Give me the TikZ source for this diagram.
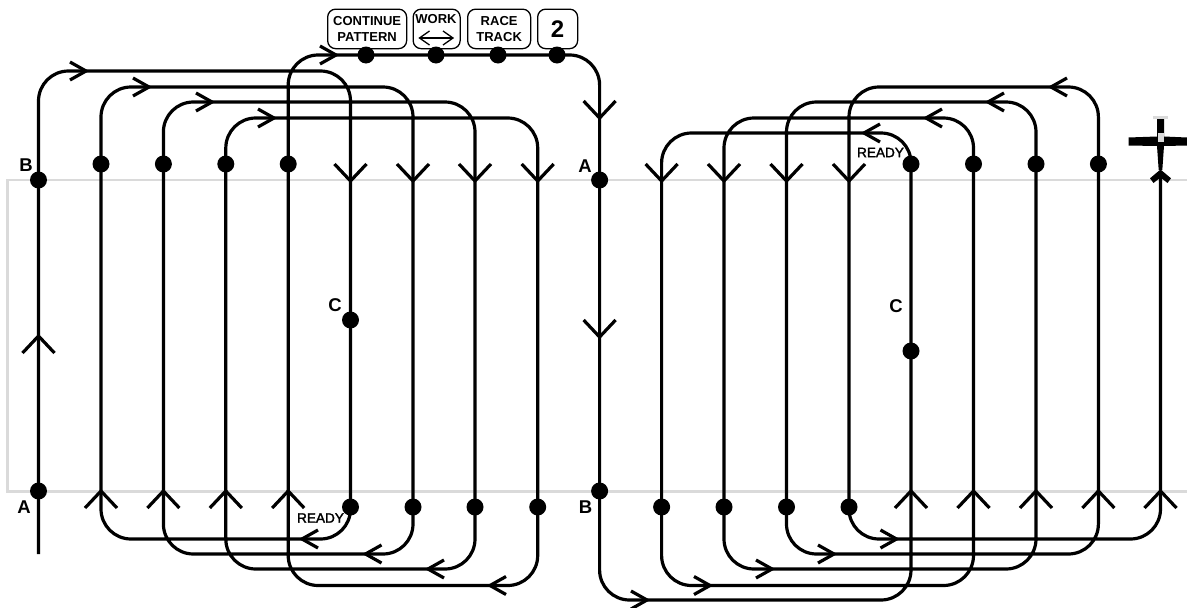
\documentclass[tikz,border=0pt]{standalone}
\usepackage{fontspec}
\setmainfont{Liberation Sans}
\newfontface\heavyface{Liberation Sans Bold}
\newfontface\midface[FakeBold=2]{Liberation Sans}
\definecolor{frame}{HTML}{DADADA}
\tikzset{
  route/.style={line width=3.2pt,rounded corners=30pt,black},
  dot/.style={circle,fill=black,inner sep=0pt,minimum size=17pt},
  btn/.style={draw=black,line width=1.3pt,rounded corners=8pt,inner sep=0pt,fill=white,font=\fontsize{13}{15.5}\selectfont\heavyface,align=center,anchor=north west},
  big/.style={font=\fontsize{18.5}{18}\selectfont\heavyface,inner sep=0pt},
  rdy/.style={font=\fontsize{13.6}{14}\selectfont\midface,inner sep=0pt},
  vee/.pic={\draw[line width=3.2pt,line join=miter] (-16,-17)--(0,0)--(16,-17);},
  hee/.pic={\draw[line width=3.2pt,line join=miter] (-16,-9)--(0,0)--(-16,9);}
}
\begin{document}
\begin{tikzpicture}[x=1pt,y=-1pt]
\useasboundingbox (0,0) rectangle (1187,608);
% frame
\draw[frame,line width=2.2pt] (1187,180) -- (7.5,180) -- (7.5,491.5) -- (1187,491.5);
% columns and levels
\foreach \n/\v in {0/38.5,1/101,2/163.4,3/225.8,4/288.2,5/350.5,6/413,7/475,8/537.7,9/599.6,10/661.6,11/724,12/786.5,13/849,14/911,15/973.5,16/1036,17/1098.4,18/1160.5}
  \coordinate (c\n) at (\v,0);
\foreach \n/\v in {a/55,b/71,c/87,d/102,e/118,f/133,p/539,q/554,r/569,s/585.5,t/600}
  \coordinate (l\n) at (0,\v);
\coordinate (start) at (38.5,554);
\coordinate (finish) at (1160.5,172);
% route
\draw[route] (start)
  -- (c0|-lb) -- (c5|-lb) -- (c5|-lp) -- (c1|-lp)
  -- (c1|-lc) -- (c6|-lc) -- (c6|-lq) -- (c2|-lq)
  -- (c2|-ld) -- (c7|-ld) -- (c7|-lr) -- (c3|-lr)
  -- (c3|-le) -- (c8|-le) -- (c8|-ls) -- (c4|-ls)
  -- (c4|-la) -- (c9|-la) -- (c9|-lt) -- (c14|-lt)
  -- (c14|-lf) -- (c10|-lf) -- (c10|-ls) -- (c15|-ls)
  -- (c15|-le) -- (c11|-le) -- (c11|-lr) -- (c16|-lr)
  -- (c16|-ld) -- (c12|-ld) -- (c12|-lq) -- (c17|-lq)
  -- (c17|-lc) -- (c13|-lc) -- (c13|-lp) -- (c18|-lp)
  -- (finish);
% vertical open arrowheads
\foreach \x in {350.5,413,475,537.7,661.6,724,786.5,849}
  \pic at (\x,181) {vee};
\pic at (599.6,118) {vee};
\pic at (599.6,337) {vee};
\foreach \x in {101,163.4,225.8,288.2,911,973.5,1036,1098.4,1160.5}
  \pic[yscale=-1] at (\x,491) {vee};
\pic[yscale=-1] at (38.5,336) {vee};
% horizontal open arrowheads
\foreach \x/\y in {86/71,149/87,212/102,274/118,336/55,896.5/539,834/554,772/569,710/585.5,647/600}
  \pic at (\x,\y) {hee};
\foreach \x/\y in {302/539,365.5/554,428/569,490/585.5,1051/87,988/102,926/118,864/133}
  \pic[xscale=-1] at (\x,\y) {hee};
% dots
\node[dot] (dB1) at (38.5,180) {};
\node[dot] (dA1) at (38.5,491) {};
\node[dot] (dA2) at (599.6,180) {};
\node[dot] (dB2) at (599.6,491) {};
\node[dot] (dC1) at (350.5,320) {};
\node[dot] (dC2) at (911,351) {};
\foreach \x [count=\i] in {101,163.4,225.8,288.2,911,973.5,1036,1098.4}
  \node[dot] (up\i) at (\x,164) {};
\foreach \x [count=\i] in {350.5,413,475,537.7,661.6,724,786.5,849}
  \node[dot] (lo\i) at (\x,507) {};
% buttons
\node[btn,minimum width=79pt,minimum height=39.5pt] (bCont) at (327,8.5) {CONTINUE\\PATTERN};
\node[btn,minimum width=47pt,minimum height=39.5pt] (bWork) at (412.5,8.5) {};
\node[font=\fontsize{13}{15}\selectfont\heavyface,inner sep=0pt] (tWork) at (436,19.5) {WORK};
\coordinate (wl) at (419.5,38);
\coordinate (wr) at (453,38);
\draw[line width=1.3pt] (wl) -- (wr);
\draw[line width=1.3pt] ([shift={(10,-7)}]wl) -- (wl) -- ([shift={(10,7)}]wl);
\draw[line width=1.3pt] ([shift={(-10,-7)}]wr) -- (wr) -- ([shift={(-10,7)}]wr);
\node[btn,minimum width=63pt,minimum height=39.5pt] (bRace) at (467,8.5) {RACE\\TRACK};
\node[btn,minimum width=40pt,minimum height=39.5pt,font=\fontsize{24}{24}\selectfont\heavyface] (bTwo) at (537,8.5) {2};
\node[dot] (p1) at (366,55) {};
\node[dot] (p2) at (436,55) {};
\node[dot] (p3) at (498,55) {};
\node[dot] (p4) at (557,55) {};
% labels
\node[big] (lB1) at (26,165) {B};
\node[big] (lA1) at (24,507) {A};
\node[big] (lA2) at (585,166) {A};
\node[big] (lB2) at (585.5,507) {B};
\node[big] (lC1) at (335,305) {C};
\node[big] (lC2) at (896,306) {C};
\node[rdy] (r1) at (320.5,518) {READY};
\node[rdy] (r2) at (880.5,152.5) {READY};
% aeroplane
\fill[frame] (1153,115.5) rectangle (1168,119);
\fill[black] (1157,119) -- (1164,119) -- (1164,136.5) -- (1187,137.5) -- (1187,145.5) -- (1164,146) -- (1162.3,170) -- (1158.7,170) -- (1157,146) -- (1128.5,145.5) -- (1128.5,137.5) -- (1157,136.5) -- cycle;
\fill[frame] (1157.5,133) rectangle (1163.5,142);
\fill[black] (1160.5,169.5) -- (1171,178.3) -- (1167.5,183) -- (1160.5,177.5) -- (1153.5,183) -- (1150,178.3) -- cycle;
\end{tikzpicture}
\end{document}
